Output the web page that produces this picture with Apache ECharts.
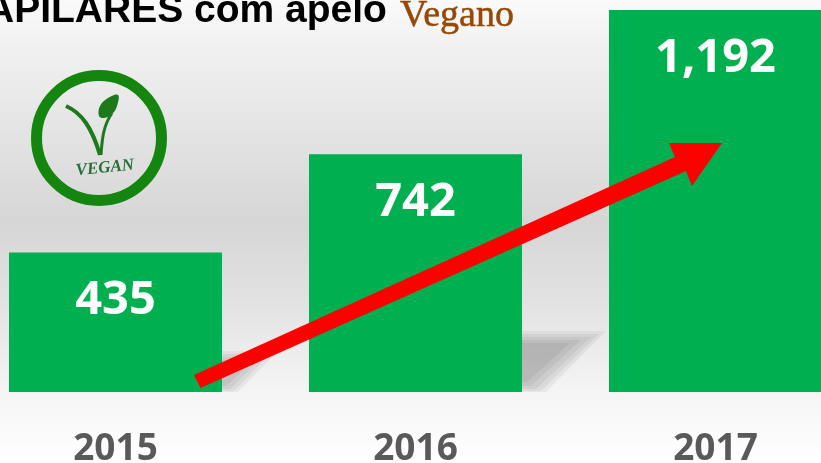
<!DOCTYPE html>
<html><head><meta charset="utf-8">
<style>html,body{margin:0;padding:0;background:#fff;overflow:hidden}#c{width:821px;height:463px}</style>
<script src="https://cdn.jsdelivr.net/npm/echarts@6/dist/echarts.min.js"></script>
</head><body><div id="c"></div>
<script>
const categories = ['2015', '2016', '2017'];
const values = [435, 742, 1192];
const titleMain = 'APILARES com apelo';
const titleAccent = 'Vegano';
const green = '#00B050';

// soft cast shadows behind the bars: stacked translucent layers
function shadowLayers(x0, layers) {
  return layers.map(l => ({
    type: 'polygon', z: 1,
    shape: {points: [[x0, l[0]], [l[1], l[0]], [l[2], l[3]], [x0, l[3]]]},
    style: {fill: 'rgba(0,0,0,0.05)'}
  }));
}
const shadowA = shadowLayers(222, [[351,278,238,392],[354,270,234,391],[357,262,230,389],[360,254,226,386]]);
const shadowB = shadowLayers(522, [[331,606,546,392],[334,599,541,391],[337,591,536,389],[340,581,531,386],[343,570,527,382]]);

const chart = echarts.init(document.getElementById('c'), null, {renderer: 'canvas'});
chart.setOption({
  animation: false,
  backgroundColor: {type: 'linear', x: 0, y: 0, x2: 0, y2: 1, colorStops: [
    {offset: 0, color: '#fafafa'},
    {offset: 0.10, color: '#f1f1f1'},
    {offset: 0.48, color: '#d6d6d6'},
    {offset: 0.65, color: '#e2e2e2'},
    {offset: 0.85, color: '#f5f5f5'},
    {offset: 1, color: '#ffffff'}
  ]},
  grid: {left: -34.5, right: -44.5, top: 10, bottom: 71, containLabel: false, outerBoundsMode: 'none'},
  xAxis: {
    type: 'category', data: categories,
    axisLine: {show: false}, axisTick: {show: false},
    axisLabel: {margin: 38, color: '#595959', fontFamily: 'Open Sans', fontWeight: 'bold', fontSize: 37, lineHeight: 38}
  },
  yAxis: {type: 'value', min: 0, max: 1192, show: false, splitLine: {show: false}},
  series: [{
    type: 'bar', data: values, barWidth: 213,
    itemStyle: {color: green},
    label: {
      show: true, position: 'insideTop', distance: 25,
      color: '#fff', fontFamily: 'Open Sans', fontWeight: 'bold', fontSize: 47,
      formatter: p => p.value.toLocaleString('en-US')
    }
  }],
  graphic: {elements: [
    ...shadowA,
    ...shadowB,
    {type: 'text', z: 5, style: {x: -14, y: -8, text: titleMain, fill: '#000',
      font: 'bold 39px "Liberation Sans"'}},
    {type: 'text', z: 5, style: {x: 400, y: -3, text: titleAccent, fill: '#974806',
      stroke: '#974806', lineWidth: 0.5, font: '38px "Liberation Serif"'}},
    {type: 'circle', z: 3, shape: {cx: 99, cy: 138, r: 62.5},
     style: {fill: 'none', stroke: '#14860f', lineWidth: 11}},
    {type: 'bezierCurve', z: 4, shape: {x1: 66, y1: 106, cpx1: 82, cpy1: 113, cpx2: 92, cpy2: 128, x2: 100, y2: 155},
     style: {fill: 'none', stroke: '#1c7a1c', lineWidth: 4}},
    {type: 'bezierCurve', z: 4, shape: {x1: 101, y1: 155, cpx1: 102, cpy1: 140, cpx2: 103, cpy2: 126, x2: 112, y2: 113},
     style: {fill: 'none', stroke: '#1c7a1c', lineWidth: 3}},
    {type: 'polygon', z: 4, shape: {points: [[118,95],[108,98],[100,106],[99,116],[104,118],[112,114],[117,106]], smooth: 0.4},
     style: {fill: '#1c7a1c'}},
    {type: 'text', z: 4, rotation: 0.1, x: 105, y: 168, style: {x: 0, y: 0, text: 'VEGAN', align: 'center', verticalAlign: 'middle',
      fill: '#2b6e3a', font: 'italic bold 17px "Liberation Serif"'}},
    {type: 'polygon', z: 10, shape: {points: [[194,375],[675,157],[669,143],[722,143],[692,186],[686,171],[200.5,388]]},
     style: {fill: '#ff0000'}}
  ]}
});
</script></body></html>
